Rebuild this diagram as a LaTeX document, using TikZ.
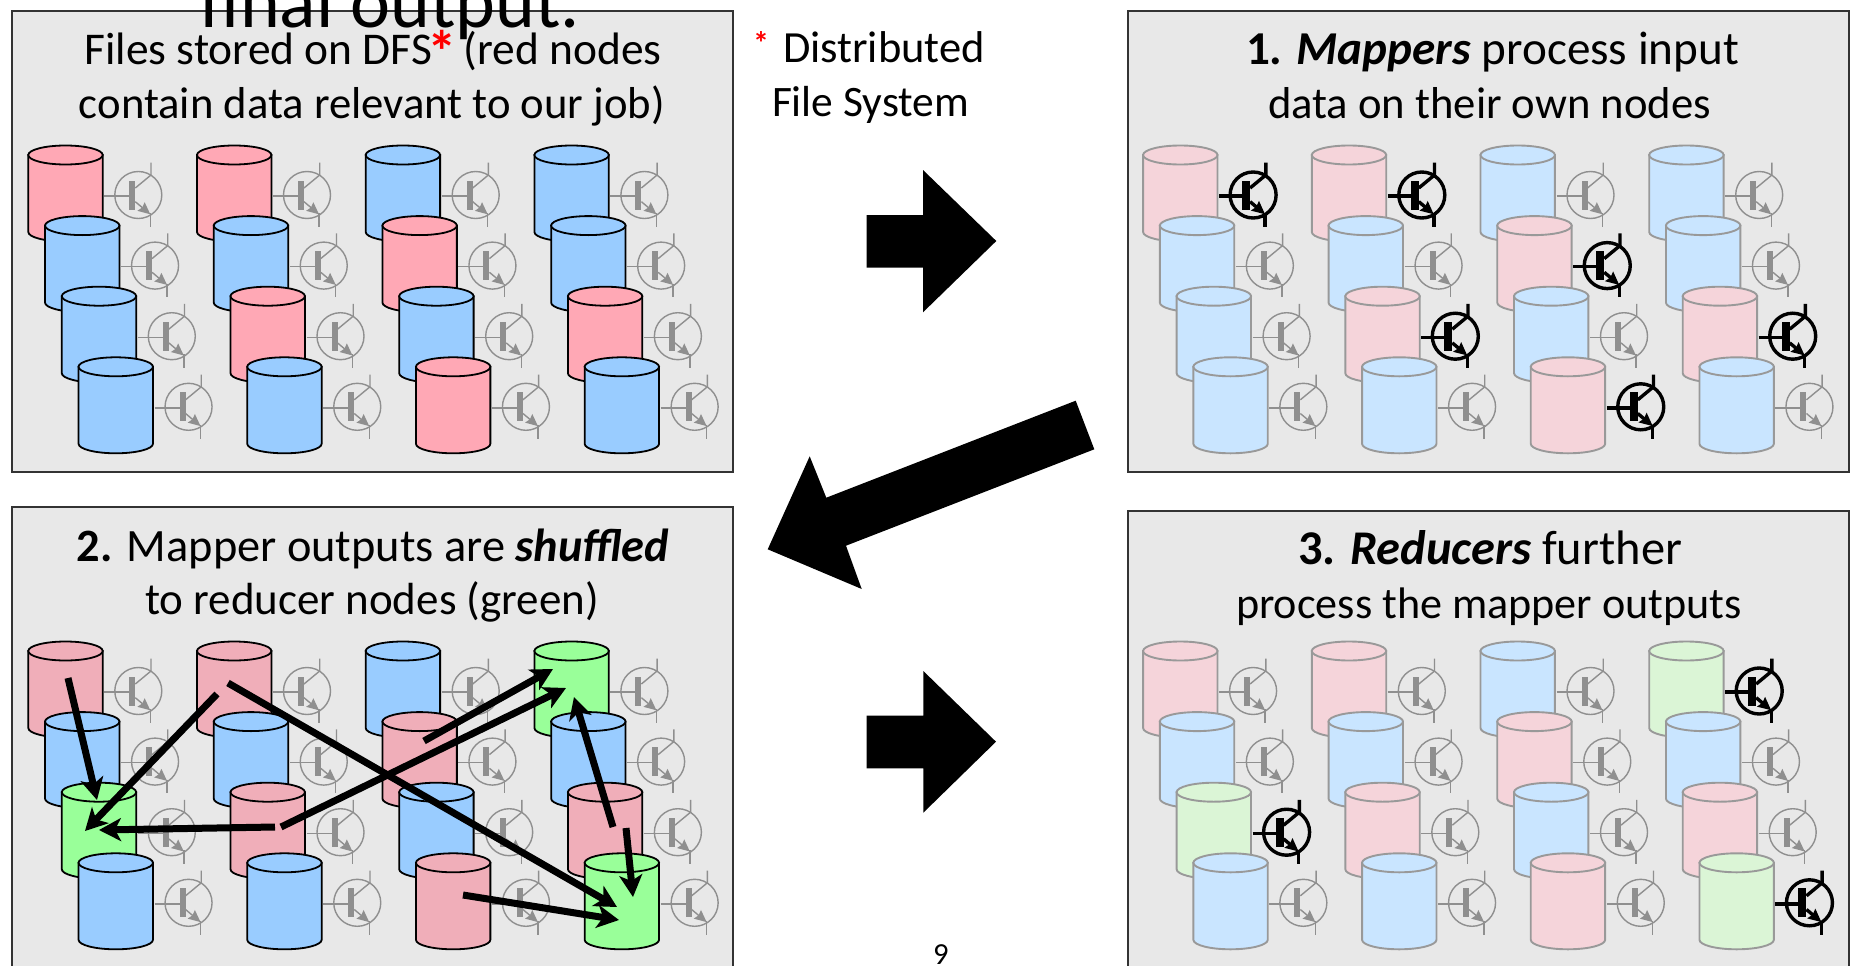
\documentclass[tikz,border=0pt]{standalone}
\usepackage{fontspec}
\usepackage{graphicx}
\setmainfont{Carlito}
\usetikzlibrary{arrows.meta}
\definecolor{panelbg}{HTML}{E8E8E8}
\definecolor{panelln}{HTML}{333333}
\definecolor{redA}{HTML}{FFA8B5}
\definecolor{bluA}{HTML}{99CCFF}
\definecolor{redC}{HTML}{F0AEB9}
\definecolor{grnC}{HTML}{99FF99}
\definecolor{redB}{HTML}{F5D4DA}
\definecolor{bluB}{HTML}{C9E5FF}
\definecolor{grnB}{HTML}{DBF5D6}
\definecolor{ghost}{HTML}{999999}
\definecolor{trgrey}{HTML}{8F8F8F}
\newcommand{\fitline}[2]{\resizebox{#1pt}{!}{\fontsize{40pt}{44pt}\selectfont #2}}
\newcommand{\redstar}{{\color{red}\raisebox{-.16em}{\scalebox{1.3}{\textbf{*}}}}}
\tikzset{
  x=1pt,y=-1pt,
  panel/.style={draw=panelln,fill=panelbg,line width=1.8pt},
  txt/.style={anchor=base,inner sep=0pt,outer sep=0pt},
  bigarrow/.style={fill=black,draw=none},
  moves/.style={-{Stealth[length=22pt,width=23pt,inset=6pt]},line width=7pt,black},
  cylA/.style={draw=black,line width=1.8pt},
  cylB/.style={draw=ghost,line width=1.9pt},
}
% transistor: colour, line width, bar left edge, arrow length, arrow width, radius; origin = circle centre
\newcommand{\transistor}[6]{%
  \begin{scope}[draw=#1,line width=#2pt]
    \draw (0,0) circle[radius=#6];
    \draw (-34,1) -- (-7,1);
    \fill[#1] (#3,-14.5) rectangle (-3,14.5);
    \draw (-3,-7) -- (12.7,-20) -- (12.7,-32.3);
    \draw[-{Stealth[length=#4pt,width=#5pt,inset=1.5pt]}] (-3,6.7) -- (12,19.3);
    \draw (12,18) -- (12,31.7);
  \end{scope}}
\newcommand{\transg}{\transistor{trgrey}{1.4}{-9}{12}{11}{23.5}}
\newcommand{\transk}{\transistor{black}{3.4}{-11}{13}{12}{23}}
% cell grid: x of first cylinder, y of first top ellipse, cylinder style, list row/col/fill/transistor
\newcommand{\cells}[4]{%
  \foreach \r/\c/\f/\t in {#4}{%
    \pgfmathsetmacro{\px}{#1+\c*168.7+\r*16.75}%
    \pgfmathsetmacro{\py}{#2+\r*70.6}%
    \begin{scope}[shift={(\px,\py)}]
      \path[fill=\f,#3] (-37.2,0) -- (-37.2,77) arc[start angle=180,end angle=0,x radius=37.2,y radius=9.5]
        -- (37.2,0) -- cycle;
      \path[fill=\f,#3] (0,0) ellipse[x radius=37.2,y radius=9.5];
      \begin{scope}[shift={(72.8,40)}]
        \csname trans\t\endcsname
      \end{scope}
    \end{scope}
  }}
\begin{document}
\begin{tikzpicture}
\useasboundingbox (0,0) rectangle (1850,966);
\clip (0,0) rectangle (1850,966);
\fill[white] (0,0) rectangle (1850,966);
\path[panel] (12,11) rectangle (733,472);
\path[panel] (1128,11) rectangle (1849,472);
\path[panel] (12,507) rectangle (733,990);
\path[panel] (1128,511) rectangle (1849,990);

% overflowing title
\node[txt] (title) at (390,28) {\fitline{380}{final output.}};

% panel A
\node[txt] (a1) at (373,65) {\fitline{577}{Files stored on DFS\hspace{-.1em}\redstar\hspace{-.08em} (red nodes}};
\node[txt] (a2) at (372,118) {\fitline{586}{contain data relevant to our job)}};
\cells{65.5}{155}{cylA}{
 0/0/redA/g,0/1/redA/g,0/2/bluA/g,0/3/bluA/g,
 1/0/bluA/g,1/1/bluA/g,1/2/redA/g,1/3/bluA/g,
 2/0/bluA/g,2/1/redA/g,2/2/bluA/g,2/3/redA/g,
 3/0/bluA/g,3/1/bluA/g,3/2/redA/g,3/3/bluA/g}

% footnote
\node[txt] (fnstar) at (761,51) {\fitline{16}{\redstar}};
\node[txt] (fn1) at (884,62.5) {\fitline{202}{Distributed}};
\node[txt] (fn2) at (870.5,116) {\fitline{197}{File System}};

% panel B
\node[txt] (b1) at (1492.5,65) {\fitline{493}{\textbf{1. \textit{Mappers}} process input}};
\node[txt] (b2) at (1489.5,118) {\fitline{443}{data on their own nodes}};
\cells{1180.3}{155}{cylB}{
 0/0/redB/k,0/1/redB/k,0/2/bluB/g,0/3/bluB/g,
 1/0/bluB/g,1/1/bluB/g,1/2/redB/k,1/3/bluB/g,
 2/0/bluB/g,2/1/redB/k,2/2/bluB/g,2/3/redB/k,
 3/0/bluB/g,3/1/bluB/g,3/2/redB/k,3/3/bluB/g}

% panel C
\node[txt] (c1) at (373,561) {\fitline{592}{\textbf{2.} Mapper outputs are \textbf{\textit{shuffled}}}};
\node[txt] (c2) at (372,614.5) {\fitline{454}{to reducer nodes (green)}};
\cells{65.5}{651}{cylA}{
 0/0/redC/g,0/1/redC/g,0/2/bluA/g,0/3/grnC/g,
 1/0/bluA/g,1/1/bluA/g,1/2/redC/g,1/3/bluA/g,
 2/0/grnC/g,2/1/redC/g,2/2/bluA/g,2/3/redC/g,
 3/0/bluA/g,3/1/bluA/g,3/2/redC/g,3/3/grnC/g}

% panel D
\node[txt] (d1) at (1490,564.5) {\fitline{384}{\textbf{3. \textit{Reducers}} further}};
\node[txt] (d2) at (1489,618.5) {\fitline{506}{process the mapper outputs}};
\cells{1180.3}{651}{cylB}{
 0/0/redB/g,0/1/redB/g,0/2/bluB/g,0/3/grnB/k,
 1/0/bluB/g,1/1/bluB/g,1/2/redB/g,1/3/bluB/g,
 2/0/grnB/k,2/1/redB/g,2/2/bluB/g,2/3/redB/g,
 3/0/bluB/g,3/1/bluB/g,3/2/redB/g,3/3/grnB/k}

% shuffle arrows
\coordinate (s1) at (68,678);   \coordinate (t1) at (97,800);
\coordinate (s2) at (217,694);  \coordinate (t2) at (85,831);
\coordinate (s3) at (228,683);  \coordinate (t3) at (617,907);
\coordinate (s4) at (424,741);  \coordinate (t4) at (553,669);
\coordinate (s5) at (281,827);  \coordinate (t5) at (566,688);
\coordinate (s6) at (275,827);  \coordinate (t6) at (99,830);
\coordinate (s7) at (613,827);  \coordinate (t7) at (574,697);
\coordinate (s8) at (626,828);  \coordinate (t8) at (633,897);
\coordinate (s9) at (463,895);  \coordinate (t9) at (619,920);
\foreach \i in {1,...,9}{\draw[moves] (s\i) -- (t\i);}

% big arrows
\fill[bigarrow] (866.7,215) -- (923,215) -- (923,170) -- (996.3,241) -- (923,312.3) -- (923,267.7) -- (866.7,267.7) -- cycle;
\fill[bigarrow] (866.7,715.7) -- (923.3,715.7) -- (923.3,671) -- (996,741.7) -- (923.3,812.7) -- (923.3,768.3) -- (866.7,768.3) -- cycle;
\fill[bigarrow] (1075.7,400.7) -- (1094.3,449.3) -- (846,545.7) -- (861.7,589) -- (767.7,549.3) -- (809.7,456.3) -- (826.3,497.7) -- cycle;

% page number
\node[txt] (pg) at (940.8,964) {\fitline{15.5}{9}};
\end{tikzpicture}
\end{document}
